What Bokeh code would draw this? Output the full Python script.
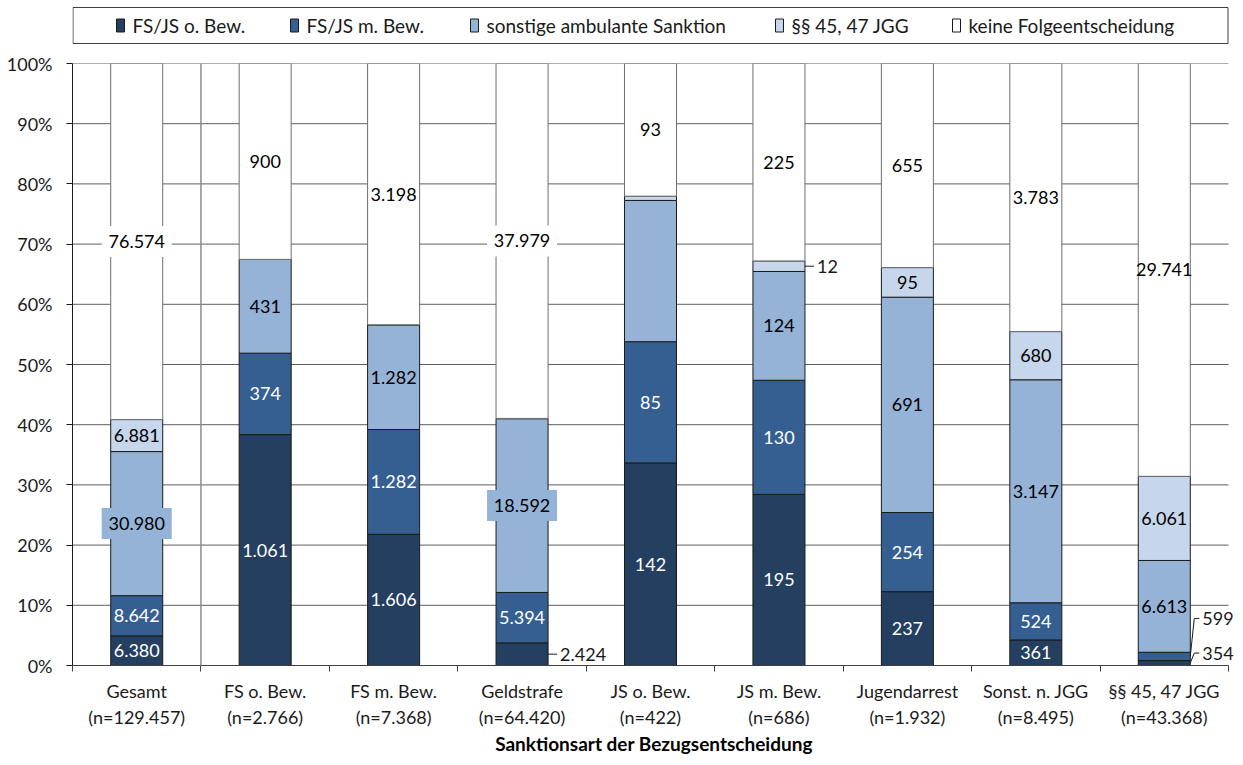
from bokeh.plotting import figure
from bokeh.models import (Range1d, FixedTicker, NumeralTickFormatter, ColumnDataSource,
                          Arrow, LabelSet)
from bokeh.layouts import column
from bokeh.embed import file_html
from bokeh.resources import INLINE
from bokeh.core.properties import value

# ---------------- data ----------------
categories = ["Gesamt", "FS o. Bew.", "FS m. Bew.", "Geldstrafe", "JS o. Bew.",
              "JS m. Bew.", "Jugendarrest", "Sonst. n. JGG", "§§ 45, 47 JGG"]
series_names = ["FS/JS o. Bew.", "FS/JS m. Bew.", "sonstige ambulante Sanktion",
                "§§ 45, 47 JGG", "keine Folgeentscheidung"]
fsjs_o_bew = [6380, 1061, 1606, 2424, 142, 195, 237, 361, 354]
fsjs_m_bew = [8642, 374, 1282, 5394, 85, 130, 254, 524, 599]
sonstige_amb = [30980, 431, 1282, 18592, 99, 124, 691, 3147, 6613]
par_45_47 = [6881, 0, 0, 31, 3, 12, 95, 680, 6061]
keine_folge = [76574, 900, 3198, 37979, 93, 225, 655, 3783, 29741]
y_ticks = [i / 10 for i in range(11)]
x_title = "Sanktionsart der Bezugsentscheidung"

# ---------------- styles ----------------
FONT = "Lato"
FS = "18px"
LEG_FS = "19px"
TITLE_FS = "19px"
fills = ["#243F60", "#365F91", "#95B3D7", "#C6D6EB", "#FFFFFF"]
outlines = ["#1a1a1a", "#1a1a1a", "#1a1a1a", "#1a1a1a", "#6e6e6e"]
text_cols = ["white", "white", "black", "black", "black"]
hidden = {(2, 4), (3, 4), (3, 3), (3, 1), (3, 2)}
boxed = {(2, 0): fills[2], (2, 3): fills[2], (4, 0): "white", (4, 3): "white"}
leader = {(0, 3): 0, (3, 5): 0, (1, 8): 38, (0, 8): 10}  # text offset upward in px
BAR_W = 0.405

W = 1235
LEG_H = 48
MAIN_H = 709
BL, BR, BT, BB = 72, 0, 15, 92
PLOT_W = 1156                      # width of the 9 categories in px
EXTRA_R = W - BL - BR - PLOT_W     # room right of the last category for outside labels
FRAME_H = MAIN_H - BT - BB
PX_Y = 1.0 / FRAME_H
PX_X = 9.0 / PLOT_W
N = len(categories)


def de(v):
    return f"{v:,}".replace(",", ".")


series = [fsjs_o_bew, fsjs_m_bew, sonstige_amb, par_45_47, keine_folge]
totals = [sum(s[i] for s in series) for i in range(N)]
xs = [i + 0.5 for i in range(N)]

# ---------------- main figure ----------------
p = figure(width=W, height=MAIN_H, x_range=Range1d(0, N + EXTRA_R * PX_X), y_range=Range1d(0, 1),
           output_backend="svg", toolbar_location=None,
           min_border_left=BL, min_border_right=BR, min_border_top=BT, min_border_bottom=BB)
p.outline_line_color = None
p.grid.visible = False

# horizontal grid lines limited to the category area
p.segment(x0=[0] * len(y_ticks), x1=[N] * len(y_ticks), y0=y_ticks, y1=y_ticks,
          line_color="#5f5f5f", line_width=1, level="underlay")

p.yaxis.ticker = FixedTicker(ticks=y_ticks)
p.yaxis.formatter = NumeralTickFormatter(format="0%")
p.yaxis.major_tick_out = 6
p.yaxis.major_tick_in = 0
p.yaxis.minor_tick_line_color = None
p.yaxis.axis_line_color = "#1a1a1a"
p.yaxis.major_tick_line_color = "#1a1a1a"
p.yaxis.major_label_text_font = FONT
p.yaxis.major_label_text_font_size = FS
p.yaxis.major_label_text_color = "#1a1a1a"
p.yaxis.major_label_standoff = 14

p.xaxis.bounds = (0, N)
p.xaxis.ticker = FixedTicker(ticks=xs, minor_ticks=list(range(N + 1)))
p.xaxis.major_label_overrides = {x: f"{c}\n(n={de(t)})" for x, c, t in zip(xs, categories, totals)}
p.xaxis.major_tick_line_color = None
p.xaxis.major_tick_out = 0
p.xaxis.major_tick_in = 0
p.xaxis.minor_tick_out = 6
p.xaxis.minor_tick_in = 0
p.xaxis.minor_tick_line_color = "#404040"
p.xaxis.axis_line_color = "#404040"
p.xaxis.major_label_text_font = FONT
p.xaxis.major_label_text_font_size = FS
p.xaxis.major_label_text_color = "#1a1a1a"
p.xaxis.major_label_text_line_height = 1.2
p.xaxis.major_label_standoff = 8
p.xaxis.axis_label = x_title
p.xaxis.axis_label_text_font = FONT
p.xaxis.axis_label_text_font_size = TITLE_FS
p.xaxis.axis_label_text_font_style = "bold"
p.xaxis.axis_label_text_color = "#000000"
p.xaxis.axis_label_standoff = 1

# separator between "Gesamt" and the rest
p.add_layout(Arrow(end=None, x_start=1, y_start=1, x_end=1, y_end=-14 * PX_Y,
                   line_color="#8c8c8c", line_width=1.5))

lab = dict(x=[], y=[], text=[], color=[])
box = dict(x=[], y=[], color=[])
lead_txt = dict(x=[], y=[], text=[])
lead_xs, lead_ys = [], []

bottom = [0.0] * N
for s, vals in enumerate(series):
    share = [v / t for v, t in zip(vals, totals)]
    top = [b + sh for b, sh in zip(bottom, share)]
    src = ColumnDataSource(dict(x=xs, bottom=bottom, top=top))
    p.vbar(x="x", bottom="bottom", top="top", width=BAR_W, source=src,
           fill_color=fills[s], line_color=outlines[s], line_width=1)
    for i, v in enumerate(vals):
        if (s, i) in hidden or v == 0:
            continue
        yc = (bottom[i] + top[i]) / 2
        if (s, i) in leader:
            edge = xs[i] + BAR_W / 2
            yt = yc + leader[(s, i)] * PX_Y
            lead_xs.append([edge, edge + 4 * PX_X, edge + 9 * PX_X])
            lead_ys.append([yc, yt, yt])
            lead_txt["x"].append(edge + 12 * PX_X)
            lead_txt["y"].append(yt)
            lead_txt["text"].append(de(v))
            continue
        if (s, i) in boxed:
            box["x"].append(xs[i])
            box["y"].append(yc)
            box["color"].append(boxed[(s, i)])
        lab["x"].append(xs[i])
        lab["y"].append(yc)
        lab["text"].append(de(v))
        lab["color"].append(text_cols[s])
    bottom = top

p.rect(x="x", y="y", width=70, height=31, width_units="screen", height_units="screen",
       fill_color="color", line_color=None, source=ColumnDataSource(box))
p.text(x="x", y="y", text="text", text_color="color", source=ColumnDataSource(lab),
       text_font=value(FONT), text_font_size=FS, text_align="center", text_baseline="middle")
p.multi_line(xs=lead_xs, ys=lead_ys, line_color="#1a1a1a", line_width=1)
p.add_layout(LabelSet(x="x", y="y", text="text", source=ColumnDataSource(lead_txt),
                      text_color="#1a1a1a", text_font=value(FONT), text_font_size=FS,
                      text_align="left", text_baseline="middle"))

# ---------------- legend strip (frame aligned with the plot frame) ----------------
lf = figure(width=W, height=LEG_H, x_range=Range1d(0, PLOT_W + EXTRA_R), y_range=Range1d(LEG_H, 0),
            output_backend="svg", toolbar_location=None,
            min_border_left=BL, min_border_right=BR, min_border_top=0, min_border_bottom=0,
            x_axis_type=None, y_axis_type=None)
lf.outline_line_color = None
lf.grid.visible = False
lf.quad(left=[0.5], right=[PLOT_W - 0.5], top=[7], bottom=[43], fill_color="white",
        line_color="#404040", line_width=1)
sq_x = [48, 222, 402, 707, 884]
lf.rect(x=sq_x, y=[25] * 5, width=8, height=13, fill_color=fills, line_color="#1a1a1a")
lf.text(x=[v + 12 for v in sq_x], y=[25] * 5, text=series_names, text_color="#1a1a1a",
        text_font=value(FONT), text_font_size=LEG_FS, text_align="left", text_baseline="middle")

layout = column(lf, p)
open("out.html", "w").write(file_html(layout, INLINE))
